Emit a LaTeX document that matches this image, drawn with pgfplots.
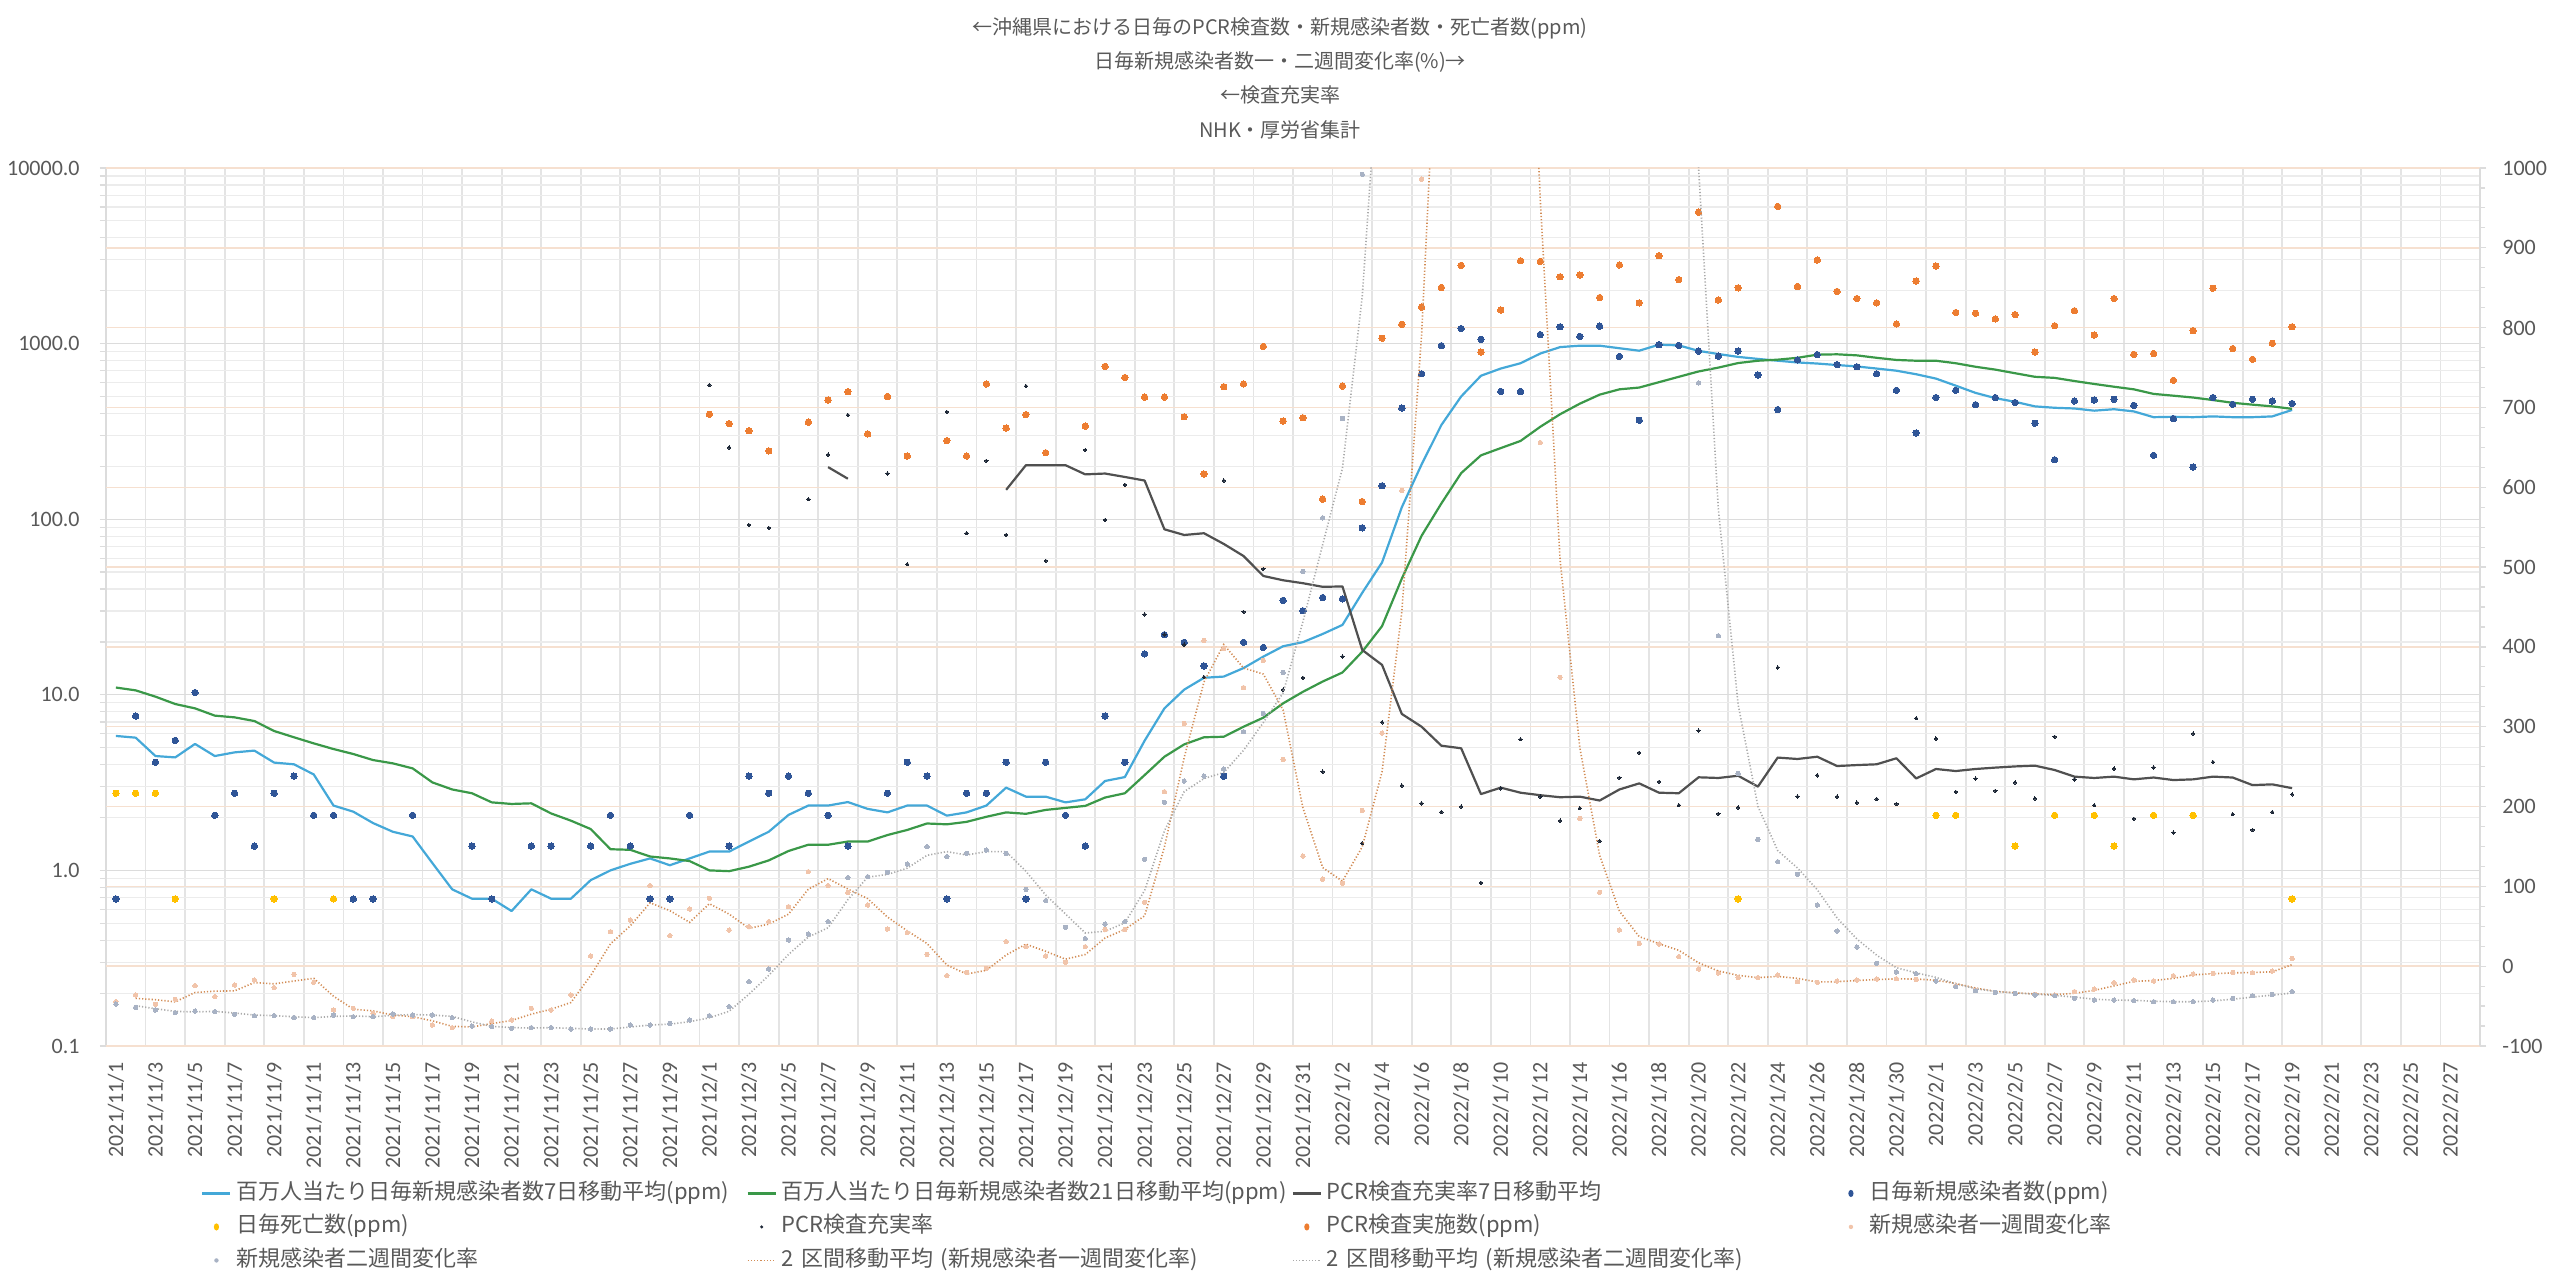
\documentclass[border=0pt]{standalone}
\usepackage{pgfplots}
\pgfplotsset{compat=1.18}
\usepackage{fontspec}
\setmainfont{Carlito}
\newfontfamily\jp{Noto Sans CJK JP}
\definecolor{cA}{RGB}{68,168,216}
\definecolor{cB}{RGB}{58,152,72}
\definecolor{cC}{RGB}{80,80,80}
\definecolor{cD}{RGB}{47,85,151}
\definecolor{cE}{RGB}{255,192,0}
\definecolor{cF}{RGB}{30,40,55}
\definecolor{cG}{RGB}{237,125,49}
\definecolor{cH}{RGB}{241,196,170}
\definecolor{cI}{RGB}{168,178,196}
\definecolor{cJ}{RGB}{210,140,85}
\definecolor{cK}{RGB}{170,170,170}
\definecolor{txt}{RGB}{89,89,89}
\definecolor{grd}{RGB}{220,220,220}
\definecolor{grdv}{RGB}{228,228,228}
\definecolor{grdm}{RGB}{236,236,236}
\definecolor{tgrd}{RGB}{246,224,208}
\pgfplotsset{
  mybase/.style={width=1187bp, height=439bp, scale only axis, at={(0,0)}, anchor=south west,
    xmin=-0.5, xmax=119.5, clip=true},
  tl/.style={font=\fontsize{11bp}{13bp}\selectfont, text=txt, inner sep=0pt},
}
\begin{document}
\begin{tikzpicture}
\useasboundingbox (-53bp,-119.5bp) rectangle (1227bp,523bp);
% ---------- left grid + ticks
\begin{axis}[mybase, ymode=log, ymin=0.1, ymax=10000,
  axis x line*=bottom, axis y line*=left,
  axis line style={draw=grd, line width=0.7bp},
  xtick={0,2,...,118},
  xticklabels={2021/11/1,2021/11/3,2021/11/5,2021/11/7,2021/11/9,2021/11/11,2021/11/13,2021/11/15,2021/11/17,2021/11/19,2021/11/21,2021/11/23,2021/11/25,2021/11/27,2021/11/29,2021/12/1,2021/12/3,2021/12/5,2021/12/7,2021/12/9,2021/12/11,2021/12/13,2021/12/15,2021/12/17,2021/12/19,2021/12/21,2021/12/23,2021/12/25,2021/12/27,2021/12/29,2021/12/31,2022/1/2,2022/1/4,2022/1/6,2022/1/8,2022/1/10,2022/1/12,2022/1/14,2022/1/16,2022/1/18,2022/1/20,2022/1/22,2022/1/24,2022/1/26,2022/1/28,2022/1/30,2022/2/1,2022/2/3,2022/2/5,2022/2/7,2022/2/9,2022/2/11,2022/2/13,2022/2/15,2022/2/17,2022/2/19,2022/2/21,2022/2/23,2022/2/25,2022/2/27},
  xtick style={draw=none},
  xticklabel style={tl, rotate=90, anchor=east},
  xticklabel shift=5bp,
  minor xtick={-0.5,1.5,3.5,5.5,7.5,9.5,11.5,13.5,15.5,17.5,19.5,21.5,23.5,25.5,27.5,29.5,31.5,33.5,35.5,37.5,39.5,41.5,43.5,45.5,47.5,49.5,51.5,53.5,55.5,57.5,59.5,61.5,63.5,65.5,67.5,69.5,71.5,73.5,75.5,77.5,79.5,81.5,83.5,85.5,87.5,89.5,91.5,93.5,95.5,97.5,99.5,101.5,103.5,105.5,107.5,109.5,111.5,113.5,115.5,117.5,119.5},
  xminorgrids=true,
  minor x grid style={draw=grdv, line width=0.9bp},
  ytick={0.1,1,10,100,1000,10000},
  yticklabels={0.1,1.0,10.0,100.0,1000.0,10000.0},
  yticklabel style={tl},
  yticklabel shift=10bp,
  ymajorgrids=true, yminorgrids=true,
  major y grid style={draw=grd, line width=0.6bp},
  minor y grid style={draw=grdm, line width=0.6bp},
  ytick style={draw=grd, line width=0.6bp},
  tick align=outside, major tick length=3bp, minor tick length=3bp,
]
\end{axis}
% ---------- right grid + ticks
\begin{axis}[mybase, ymin=-100, ymax=1000,
  axis x line=none, axis y line*=right,
  axis line style={draw=grd, line width=0.7bp},
  xtick=\empty,
  ytick={-100,0,100,200,300,400,500,600,700,800,900,1000},
  yticklabels={-100,0,100,200,300,400,500,600,700,800,900,1000},
  yticklabel style={tl},
  yticklabel shift=8bp,
  ymajorgrids=true, major y grid style={draw=tgrd, line width=0.7bp},
  minor y tick num=3,
  ytick style={draw=grd, line width=0.6bp},
  tick align=outside, major tick length=3bp, minor tick length=2.5bp,
]
\end{axis}
% ---------- left plots
\begin{axis}[mybase, ymode=log, ymin=0.1, ymax=10000, hide axis, unbounded coords=jump]
\addplot[cA, line width=1.1bp, line join=round] coordinates {(0,5.83)(1,5.70)(2,4.48)(3,4.40)(4,5.25)(5,4.48)(6,4.70)(7,4.81)(8,4.11)(9,4.02)(10,3.52)(11,2.34)(12,2.16)(13,1.86)(14,1.66)(15,1.56)(16,1.10)(17,0.78)(18,0.69)(19,0.69)(20,0.587)(21,0.78)(22,0.69)(23,0.69)(24,0.88)(25,1.0)(26,1.09)(27,1.17)(28,1.07)(29,1.17)(30,1.28)(31,1.28)(32,1.46)(33,1.66)(34,2.07)(35,2.34)(36,2.34)(37,2.45)(38,2.24)(39,2.14)(40,2.34)(41,2.34)(42,2.05)(43,2.14)(44,2.34)(45,2.96)(46,2.63)(47,2.63)(48,2.44)(49,2.54)(50,3.23)(51,3.40)(52,5.48)(53,8.37)(54,10.7)(55,12.5)(56,12.7)(57,14.2)(58,16.5)(59,18.9)(60,19.95)(61,22.2)(62,25.0)(63,38.1)(64,56.7)(65,117)(66,205)(67,344)(68,500)(69,656)(70,721)(71,773)(72,878)(73,955)(74,973)(75,973)(76,941)(77,911)(78,986)(79,977)(80,909)(81,872)(82,840)(83,818)(84,799)(85,781)(86,770)(87,755)(88,741)(89,721)(90,701)(91,669)(92,632)(93,576)(94,524)(95,489)(96,466)(97,439)(98,431)(99,427)(100,415)(101,423)(102,411)(103,381)(104,383)(105,381)(106,385)(107,381)(108,381)(109,385)(110,419)};
\addplot[cB, line width=1.1bp, line join=round] coordinates {(0,11.0)(1,10.6)(2,9.76)(3,8.86)(4,8.37)(5,7.61)(6,7.44)(7,7.09)(8,6.22)(9,5.73)(10,5.29)(11,4.91)(12,4.60)(13,4.25)(14,4.07)(15,3.81)(16,3.17)(17,2.89)(18,2.75)(19,2.44)(20,2.39)(21,2.41)(22,2.11)(23,1.92)(24,1.72)(25,1.32)(26,1.31)(27,1.20)(28,1.17)(29,1.13)(30,1.0)(31,0.99)(32,1.05)(33,1.14)(34,1.29)(35,1.40)(36,1.40)(37,1.46)(38,1.46)(39,1.59)(40,1.70)(41,1.85)(42,1.83)(43,1.89)(44,2.02)(45,2.14)(46,2.10)(47,2.21)(48,2.27)(49,2.33)(50,2.60)(51,2.75)(52,3.49)(53,4.44)(54,5.22)(55,5.73)(56,5.77)(57,6.58)(58,7.41)(59,8.94)(60,10.4)(61,11.9)(62,13.4)(63,17.6)(64,24.6)(65,45.9)(66,80.5)(67,123)(68,183)(69,231)(70,254)(71,279)(72,336)(73,396)(74,455)(75,512)(76,549)(77,562)(78,603)(79,647)(80,694)(81,730)(82,775)(83,799)(84,810)(85,830)(86,865)(87,869)(88,857)(89,830)(90,807)(91,799)(92,799)(93,773)(94,738)(95,711)(96,678)(97,647)(98,638)(99,612)(100,589)(101,568)(102,549)(103,517)(104,505)(105,493)(106,477)(107,460)(108,449)(109,439)(110,425)};
\addplot[cC, line width=1.1bp, line join=round] coordinates {(36,198)(37,170)(38,nan)(45,147)(46,203)(47,203)(48,203)(49,180)(50,182)(51,174)(52,166)(53,87.6)(54,81.3)(55,83.2)(56,72.3)(57,61.7)(58,47.5)(59,44.9)(60,43.2)(61,41.2)(62,41.4)(63,18.0)(64,14.8)(65,7.78)(66,6.58)(67,5.13)(68,4.96)(69,2.72)(70,2.96)(71,2.77)(72,2.68)(73,2.61)(74,2.63)(75,2.50)(76,2.89)(77,3.13)(78,2.77)(79,2.75)(80,3.39)(81,3.36)(82,3.46)(83,3.00)(84,4.39)(85,4.31)(86,4.44)(87,3.93)(88,3.98)(89,4.02)(90,4.35)(91,3.34)(92,3.78)(93,3.68)(94,3.78)(95,3.85)(96,3.91)(97,3.95)(98,3.73)(99,3.42)(100,3.36)(101,3.42)(102,3.30)(103,3.38)(104,3.27)(105,3.30)(106,3.42)(107,3.38)(108,3.06)(109,3.09)(110,2.94)};
\addplot[only marks, mark=*, mark size=1.6bp, mark options={draw=cD, fill=cD, line width=0pt}] coordinates {(0,0.688)(1,7.57)(2,4.13)(3,5.50)(4,10.3)(5,2.06)(6,2.75)(7,1.376)(8,2.75)(9,3.44)(10,2.06)(11,2.06)(12,0.688)(13,0.688)(15,2.06)(18,1.376)(19,0.688)(21,1.376)(22,1.376)(24,1.376)(25,2.06)(26,1.376)(27,0.688)(28,0.688)(29,2.06)(31,1.376)(32,3.44)(33,2.75)(34,3.44)(35,2.75)(36,2.06)(37,1.376)(39,2.75)(40,4.13)(41,3.44)(42,0.688)(43,2.75)(44,2.75)(45,4.13)(46,0.688)(47,4.13)(48,2.06)(49,1.376)(50,7.57)(51,4.13)(52,17.1)(53,22.0)(54,19.9)(55,14.6)(56,3.44)(57,19.9)(58,18.6)(59,34.5)(60,30.1)(61,35.8)(62,35.2)(63,89.3)(64,155)(65,429)(66,673)(67,973)(68,1218)(69,1058)(70,534)(71,534)(72,1125)(73,1247)(74,1099)(75,1258)(76,845)(77,366)(78,986)(79,977)(80,907)(81,849)(82,907)(83,663)(84,421)(85,807)(86,865)(87,759)(88,738)(89,673)(90,542)(91,310)(92,493)(93,542)(94,449)(95,493)(96,462)(97,352)(98,218)(99,471)(100,477)(101,482)(102,445)(103,231)(104,374)(105,198)(106,493)(107,451)(108,482)(109,471)(110,456)};
\addplot[only marks, mark=*, mark size=1.6bp, mark options={draw=cE, fill=cE, line width=0pt}] coordinates {(0,2.75)(1,2.75)(2,2.75)(3,0.688)(8,0.688)(11,0.688)(82,0.688)(92,2.06)(93,2.06)(96,1.376)(98,2.06)(100,2.06)(101,1.376)(103,2.06)(105,2.06)(110,0.688)};
\addplot[only marks, mark=*, mark size=0.85bp, mark options={draw=cF, fill=cF, line width=0pt}] coordinates {(30,581)(31,256)(32,92.7)(33,89.3)(35,130)(36,233)(37,392)(39,182)(40,55.4)(42,409)(43,83.2)(44,215)(45,81.3)(46,573)(47,58.0)(49,248)(50,99)(51,157)(52,28.7)(53,22)(54,19.3)(55,12.6)(56,166)(57,29.7)(58,52.1)(59,10.7)(60,12.5)(61,3.65)(62,16.5)(63,1.43)(64,6.97)(65,3.04)(66,2.41)(67,2.15)(68,2.31)(69,0.85)(70,2.93)(71,5.58)(72,2.63)(73,1.92)(74,2.26)(75,1.47)(76,3.37)(77,4.68)(78,3.20)(79,2.35)(80,6.25)(81,2.10)(82,2.28)(84,14.3)(85,2.63)(86,3.48)(87,2.63)(88,2.43)(89,2.55)(90,2.39)(91,7.35)(92,5.63)(93,2.80)(94,3.33)(95,2.84)(96,3.17)(97,2.57)(98,5.77)(99,3.30)(100,2.35)(101,3.80)(102,1.97)(103,3.86)(104,1.64)(105,6.01)(106,4.14)(107,2.09)(108,1.70)(109,2.15)(110,2.71)};
\addplot[only marks, mark=*, mark size=1.6bp, mark options={draw=cG, fill=cG, line width=0pt}] coordinates {(30,396)(31,350)(32,319)(33,245)(35,357)(36,477)(37,532)(38,306)(39,500)(40,229)(42,280)(43,229)(44,589)(45,330)(46,394)(47,239)(49,339)(50,742)(51,641)(52,496)(53,496)(54,383)(55,181)(56,568)(57,589)(58,964)(59,362)(60,378)(61,130)(62,573)(63,126)(64,1073)(65,1288)(66,1613)(67,2087)(68,2790)(69,894)(70,1554)(71,2965)(72,2938)(73,2402)(74,2459)(75,1830)(76,2803)(77,1706)(78,3166)(79,2313)(80,5605)(81,1772)(82,2077)(84,6042)(85,2116)(86,2993)(87,1982)(88,1805)(89,1706)(90,1294)(91,2271)(92,2764)(93,1503)(94,1489)(95,1382)(96,1462)(97,894)(98,1264)(99,1539)(100,1119)(101,1805)(102,869)(103,878)(104,618)(105,1184)(106,2067)(107,937)(108,814)(109,1005)(110,1247)};
\end{axis}
% ---------- right plots + legend
\begin{axis}[mybase, ymin=-100, ymax=1000, hide axis,
  legend columns=4,
  legend cell align=left,
  legend style={at={(0.040,-0.1538)}, anchor=north west, draw=none, fill=none, inner sep=0pt,
    font=\jp\fontsize{11bp}{13bp}\selectfont, text=txt,
    nodes={text width=255bp, inner xsep=0pt, inner ysep=0pt, text height=9bp, text depth=3bp, align=left},
    /tikz/every odd column/.style={column sep=2.5bp},
    /tikz/row sep=4.75bp},
]
\addlegendimage{no markers, draw=none, legend image code/.code={\draw[cA, line width=1.1bp] (0bp,0bp) -- (14bp,0bp);}}
\addlegendentry{百万人当たり日毎新規感染者数7日移動平均(ppm)}
\addlegendimage{no markers, draw=none, legend image code/.code={\draw[cB, line width=1.1bp] (0bp,0bp) -- (14bp,0bp);}}
\addlegendentry{百万人当たり日毎新規感染者数21日移動平均(ppm)}
\addlegendimage{no markers, draw=none, legend image code/.code={\draw[cC, line width=1.1bp] (0bp,0bp) -- (14bp,0bp);}}
\addlegendentry{PCR検査充実率7日移動平均}
\addlegendimage{no markers, draw=none, legend image code/.code={\path[draw=none] (0bp,0bp) -- (14bp,0bp); \fill[cD, draw=none] (7bp,0bp) circle[x radius=1.3bp, y radius=1.8bp];}}
\addlegendentry{日毎新規感染者数(ppm)}
\addlegendimage{no markers, draw=none, legend image code/.code={\path[draw=none] (0bp,0bp) -- (14bp,0bp); \fill[cE, draw=none] (7bp,0bp) circle[x radius=1.3bp, y radius=1.8bp];}}
\addlegendentry{日毎死亡数(ppm)}
\addlegendimage{no markers, draw=none, legend image code/.code={\path[draw=none] (0bp,0bp) -- (14bp,0bp); \fill[cF, draw=none] (7bp,0bp) circle[radius=0.85bp];}}
\addlegendentry{PCR検査充実率}
\addlegendimage{no markers, draw=none, legend image code/.code={\path[draw=none] (0bp,0bp) -- (14bp,0bp); \fill[cG, draw=none] (7bp,0bp) circle[x radius=1.3bp, y radius=1.8bp];}}
\addlegendentry{PCR検査実施数(ppm)}
\addlegendimage{no markers, draw=none, legend image code/.code={\path[draw=none] (0bp,0bp) -- (14bp,0bp); \fill[cH, draw=none] (7bp,0bp) circle[radius=1.1bp];}}
\addlegendentry{新規感染者一週間変化率}
\addlegendimage{no markers, draw=none, legend image code/.code={\path[draw=none] (0bp,0bp) -- (14bp,0bp); \fill[cI, draw=none] (7bp,0bp) circle[radius=1.1bp];}}
\addlegendentry{新規感染者二週間変化率}
\addlegendimage{no markers, draw=none, legend image code/.code={\draw[cJ, line width=0.8bp, dash pattern=on 0.6bp off 1bp] (0bp,0bp) -- (14bp,0bp);}}
\addlegendentry{2 区間移動平均 (新規感染者一週間変化率)}
\addlegendimage{no markers, draw=none, legend image code/.code={\draw[cK, line width=0.8bp, dash pattern=on 0.6bp off 1bp] (0bp,0bp) -- (14bp,0bp);}}
\addlegendentry{2 区間移動平均 (新規感染者二週間変化率)}
\addplot[forget plot, only marks, mark=*, mark size=1.1bp, mark options={draw=cH, fill=cH, line width=0pt}] coordinates {(0,-44.5)(1,-36.1)(2,-47.8)(3,-41.5)(4,-24.4)(5,-38.2)(6,-23.6)(7,-17.3)(8,-26.9)(9,-10.2)(10,-20.2)(11,-54.9)(12,-52.8)(13,-59.1)(14,-63.3)(15,-63.3)(16,-73.7)(17,-77.1)(18,-75.0)(19,-68.7)(20,-67.4)(21,-52.8)(22,-54.9)(23,-36.1)(24,12.7)(25,43.2)(26,57.8)(27,100.9)(28,38.2)(29,71.6)(30,85.0)(31,45.3)(32,49.5)(33,55.8)(34,74.6)(35,118.4)(36,100.9)(37,92.5)(38,76.6)(39,46.6)(40,42.0)(41,14.8)(42,-11.9)(43,-7.7)(44,-2.7)(45,30.7)(46,24.4)(47,12.8)(48,4.8)(49,24.4)(50,46.1)(51,46.1)(52,80.0)(53,218.6)(54,304.2)(55,408)(56,398)(57,349)(58,383)(59,259)(60,138)(61,109)(62,104)(63,195)(64,292)(65,596)(66,986)(67,1624)(68,2152)(69,2524)(70,1792)(71,1263)(72,656)(73,362)(74,185)(75,92.5)(76,45.3)(77,28.6)(78,27.8)(79,11.9)(80,-3.5)(81,-8.5)(82,-14.4)(83,-14.4)(84,-11.1)(85,-19.4)(86,-20.2)(87,-18.6)(88,-17.3)(89,-16.1)(90,-15.7)(91,-16.5)(92,-18.6)(93,-24.8)(94,-29.9)(95,-32.8)(96,-34.0)(97,-35.3)(98,-36.1)(99,-31.9)(100,-28.6)(101,-20.7)(102,-17.3)(103,-18.6)(104,-11.9)(105,-9.8)(106,-9.0)(107,-7.7)(108,-8.1)(109,-6.1)(110,9.8)};
\addplot[forget plot, only marks, mark=*, mark size=1.1bp, mark options={draw=cI, fill=cI, line width=0pt}] coordinates {(0,-47.4)(1,-51.6)(2,-54.9)(3,-58.3)(4,-56.2)(5,-57.0)(6,-60.3)(7,-62.0)(8,-62.0)(9,-64.5)(10,-64.5)(11,-61.2)(12,-63.3)(13,-63.3)(14,-59.9)(15,-61.2)(16,-61.2)(17,-64.5)(18,-75.0)(19,-75.8)(20,-77.9)(21,-77.0)(22,-77.0)(23,-78.7)(24,-78.7)(25,-78.7)(26,-73.7)(27,-73.7)(28,-71.6)(29,-67.4)(30,-62.0)(31,-50.7)(32,-19.4)(33,-3.5)(34,32.8)(35,40.3)(36,55.8)(37,110.9)(38,112.1)(39,117.6)(40,128.0)(41,149.7)(42,137.2)(43,141.4)(44,145.5)(45,141.4)(46,96.3)(47,82.1)(48,48.7)(49,34.5)(50,52.8)(51,55.8)(52,133.9)(53,205.3)(54,232.0)(55,238.2)(56,247.0)(57,293.8)(58,316.7)(59,368.1)(60,494.6)(61,561.7)(62,686.1)(63,992.1)(64,1410)(65,2500)(66,3300)(67,4000)(68,4500)(69,5000)(70,5300)(71,5300)(72,5000)(73,4700)(74,4300)(75,3800)(76,3200)(77,2500)(78,1900)(79,1270)(80,730.8)(81,414)(82,241.6)(83,158.9)(84,130.9)(85,115.0)(86,76.6)(87,44.1)(88,24.0)(89,3.6)(90,-7.3)(91,-9.4)(92,-18.6)(93,-25.7)(94,-30.7)(95,-32.8)(96,-34.0)(97,-36.1)(98,-37.0)(99,-40.3)(100,-42.4)(101,-42.4)(102,-43.2)(103,-44.5)(104,-44.5)(105,-44.5)(106,-42.4)(107,-40.3)(108,-37.0)(109,-35.3)(110,-31.9)};
\addplot[forget plot, cJ, line width=0.8bp, dash pattern=on 0.6bp off 1bp] coordinates {(1,-40.3)(2,-42.0)(3,-44.7)(4,-33.0)(5,-31.3)(6,-30.9)(7,-20.5)(8,-22.1)(9,-18.6)(10,-15.2)(11,-37.6)(12,-53.9)(13,-56.0)(14,-61.2)(15,-63.3)(16,-68.5)(17,-75.4)(18,-76.1)(19,-71.9)(20,-68.1)(21,-60.1)(22,-53.9)(23,-45.5)(24,-11.7)(25,28.0)(26,50.5)(27,79.4)(28,69.6)(29,54.9)(30,78.3)(31,65.2)(32,47.4)(33,52.7)(34,65.2)(35,96.5)(36,109.7)(37,96.7)(38,84.6)(39,61.6)(40,44.3)(41,28.4)(42,1.5)(43,-9.8)(44,-5.2)(45,14.0)(46,27.6)(47,18.6)(48,8.8)(49,14.6)(50,35.3)(51,46.1)(52,63.1)(53,149.3)(54,261.4)(55,356.1)(56,403)(57,373.5)(58,366)(59,321)(60,198.5)(61,123.5)(62,106.5)(63,149.5)(64,243.5)(65,444)(66,791)(67,1305)(68,1888)(69,2338)(70,2158)(71,1527.5)(72,959.5)(73,509)(74,273.5)(75,138.8)(76,68.9)(77,37.0)(78,28.2)(79,19.9)(80,4.2)(81,-6.0)(82,-11.5)(83,-14.4)(84,-12.8)(85,-15.3)(86,-19.8)(87,-19.4)(88,-18.0)(89,-16.7)(90,-15.9)(91,-16.1)(92,-17.6)(93,-21.7)(94,-27.4)(95,-31.4)(96,-33.4)(97,-34.7)(98,-35.7)(99,-34.0)(100,-30.3)(101,-24.7)(102,-19.0)(103,-18.0)(104,-15.3)(105,-10.9)(106,-9.4)(107,-8.4)(108,-7.9)(109,-7.1)(110,1.9)};
\addplot[forget plot, cK, line width=0.8bp, dash pattern=on 0.6bp off 1bp] coordinates {(1,-49.5)(2,-53.3)(3,-56.6)(4,-57.3)(5,-56.6)(6,-58.7)(7,-61.2)(8,-62.0)(9,-63.3)(10,-64.5)(11,-62.9)(12,-62.3)(13,-63.3)(14,-61.6)(15,-60.6)(16,-61.2)(17,-62.9)(18,-69.8)(19,-75.4)(20,-76.9)(21,-77.5)(22,-77.0)(23,-77.9)(24,-78.7)(25,-78.7)(26,-76.2)(27,-73.7)(28,-72.7)(29,-69.5)(30,-64.7)(31,-56.4)(32,-35.1)(33,-11.5)(34,14.7)(35,36.6)(36,48.1)(37,83.4)(38,111.5)(39,114.9)(40,122.8)(41,138.9)(42,143.5)(43,139.3)(44,143.5)(45,143.5)(46,118.9)(47,89.2)(48,65.4)(49,41.6)(50,43.7)(51,54.3)(52,94.9)(53,169.6)(54,218.7)(55,235.1)(56,242.6)(57,270.4)(58,305.3)(59,342.4)(60,431.4)(61,528.2)(62,623.9)(63,839.1)(64,1201)(65,1955)(66,2900)(67,3650)(68,4250)(69,4750)(70,5150)(71,5300)(72,5150)(73,4850)(74,4500)(75,4050)(76,3500)(77,2850)(78,2200)(79,1585)(80,1000.4)(81,572.4)(82,327.8)(83,200.3)(84,144.9)(85,123.0)(86,95.8)(87,60.4)(88,34.1)(89,13.8)(90,-1.9)(91,-8.4)(92,-14.0)(93,-22.2)(94,-28.2)(95,-31.8)(96,-33.4)(97,-35.1)(98,-36.6)(99,-38.7)(100,-41.4)(101,-42.4)(102,-42.8)(103,-43.9)(104,-44.5)(105,-44.5)(106,-43.5)(107,-41.4)(108,-38.7)(109,-36.2)(110,-33.6)};
\end{axis}
% ---------- title
\begin{scope}[every node/.style={font=\jp\fontsize{10bp}{12bp}\selectfont, text=txt, inner sep=0pt}]
\node at (587bp,509bp) {←沖縄県における日毎のPCR検査数・新規感染者数・死亡者数(ppm)};
\node at (587bp,492bp) {日毎新規感染者数一・二週間変化率(\%)→};
\node at (587bp,475.5bp) {←検査充実率};
\node at (587bp,458bp) {NHK・厚労省集計};
\end{scope}
\end{tikzpicture}
\end{document}
